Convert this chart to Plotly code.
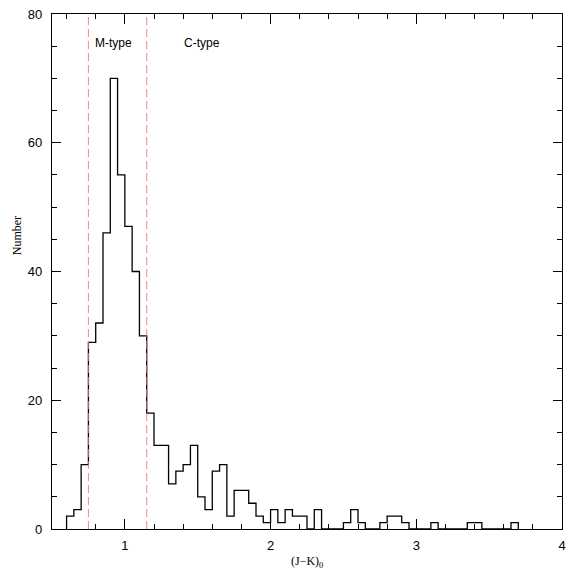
import numpy as np
import plotly.graph_objects as go

# histogram data: bins of width 0.05 starting at 0.60
bin_start = 0.60
bin_width = 0.05
counts = [2, 3, 10, 29, 32, 46, 70, 55, 47, 40, 30, 18, 13, 13, 7, 9, 10, 13,
          5, 3, 9, 10, 2, 6, 6, 4, 2, 1, 3, 1, 3, 2, 2, 0, 3, 0, 0, 0, 1, 3,
          1, 0, 0, 1, 2, 2, 1, 0, 0, 0, 1, 0, 0, 0, 0, 1, 1, 0, 0, 0, 0, 1]
divider_x = [0.75, 1.15]
labels = ["M-type", "C-type"]
label_x = [0.92, 1.53]
label_y = 75.5
x_ticks = [1, 2, 3, 4]
y_ticks = [0, 20, 40, 60, 80]

n = len(counts)
lefts = np.round(bin_start + bin_width * np.arange(n), 4)
end = round(bin_start + bin_width * n, 4)
xs = [bin_start] + list(lefts) + [end]
ys = [0] + counts + [0]

fig = go.Figure()
fig.add_trace(go.Scatter(x=xs, y=ys, mode="lines", line_shape="hv",
                         line=dict(color="black", width=1.3), showlegend=False,
                         hoverinfo="skip"))
for dx in divider_x:
    fig.add_trace(go.Scatter(x=[dx, dx], y=[0, 80], mode="lines",
                             line=dict(color="rgba(255,110,110,0.8)", width=1.1,
                                       dash="8px,4px"),
                             showlegend=False, hoverinfo="skip"))

font_sans = "Liberation Sans, Arial, sans-serif"
font_serif = "Liberation Serif, Times New Roman, serif"

for t, lx in zip(labels, label_x):
    fig.add_annotation(x=lx, y=label_y, text=t, showarrow=False, xref="x", yref="y",
                       font=dict(family=font_sans, size=12, color="black"))

W, H = 567, 572
ml, mr, mt, mb = 52, 1, 14, 43
pw, ph = W - ml - mr, H - mt - mb

def px_x(p):
    return (p - ml) / pw

def px_y(p):
    return (H - p - mb) / ph

fig.add_annotation(x=px_x(17), y=px_y(236), xref="paper", yref="paper", text="Number",
                   showarrow=False, textangle=-90, xanchor="center", yanchor="middle",
                   font=dict(family=font_serif, size=12, color="black"))
fig.add_annotation(x=px_x(309), y=px_y(562), xref="paper", yref="paper",
                   text="(J\u2212K)<sub>0</sub>", showarrow=False,
                   xanchor="center", yanchor="middle",
                   font=dict(family=font_serif, size=12, color="black"))

axis_common = dict(showline=True, linecolor="black", linewidth=1.2, mirror="ticks",
                   ticks="inside", tickcolor="black", tickwidth=1, showgrid=False,
                   zeroline=False, ticklabeloverflow="allow",
                   tickfont=dict(family=font_sans, size=13, color="black"))

fig.update_xaxes(range=[0.5, 4.0], tickvals=x_ticks, ticklen=10,
                 minor=dict(dtick=0.2, tick0=0, ticks="inside", ticklen=5,
                            tickcolor="black", tickwidth=1),
                 ticklabelstandoff=4, **axis_common)
fig.update_yaxes(range=[0, 80], tickvals=y_ticks, ticklen=9,
                 minor=dict(dtick=5, tick0=0, ticks="inside", ticklen=5,
                            tickcolor="black", tickwidth=1),
                 ticklabelstandoff=6, **axis_common)

fig.update_layout(width=W, height=H, margin=dict(l=ml, r=mr, t=mt, b=mb),
                  plot_bgcolor="white", paper_bgcolor="white")
fig.write_html("out.html")
